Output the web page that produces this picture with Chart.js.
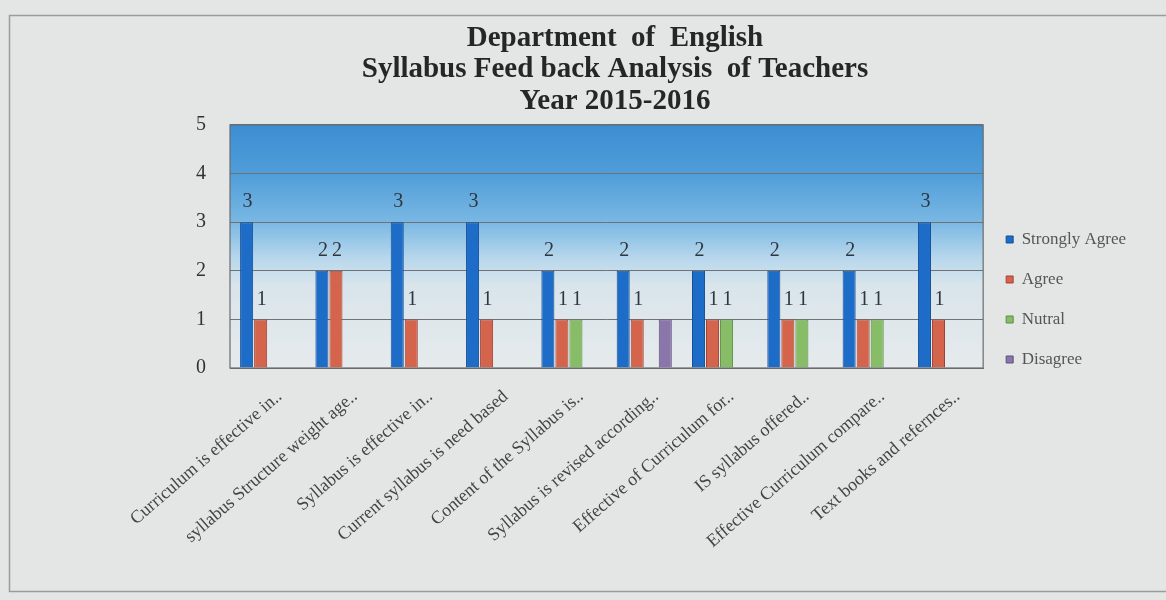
<!DOCTYPE html>
<html>
<head>
<meta charset="utf-8">
<script src="https://cdn.jsdelivr.net/npm/chart.js@4"></script>
<style>
html,body{margin:0;padding:0;background:#e4e6e6;}
#wrap{width:1166px;height:600px;position:relative;}
</style>
</head>
<body>
<div id="wrap"><canvas id="c" width="1166" height="600"></canvas></div>
<script>
const categories = [
  "Curriculum is effective in..",
  "syllabus Structure weight age..",
  "Syllabus is effective in..",
  "Current syllabus is need based",
  "Content of the Syllabus is..",
  "Syllabus is revised according..",
  "Effective of Curriculum for..",
  "IS syllabus offered..",
  "Effective Curriculum compare..",
  "Text books and refernces.."
];
const stronglyAgree = [3, 2, 3, 3, 2, 2, 2, 2, 2, 3];
const agree         = [1, 2, 1, 1, 1, 1, 1, 1, 1, 1];
const nutral        = [null, null, null, null, 1, null, 1, 1, 1, null];
const disagree      = [null, null, null, null, null, 1, null, null, null, null];
const titleLines = ["Department  of  English", "Syllabus Feed back Analysis  of Teachers", "Year 2015-2016"];

const serif = "'Liberation Serif', 'DejaVu Serif', serif";

const bgPlugin = {
  id: 'bg',
  beforeDraw(chart) {
    const {ctx, chartArea: a} = chart;
    ctx.save();
    ctx.fillStyle = '#e4e6e6';
    ctx.fillRect(0, 0, chart.width, chart.height);
    ctx.strokeStyle = '#9a9c9c';
    ctx.lineWidth = 1.5;
    ctx.strokeRect(9.5, 15.5, 1160, 576);
    const g = ctx.createLinearGradient(0, a.top, 0, a.bottom);
    g.addColorStop(0, '#3d8dd2');
    g.addColorStop(0.2, '#4f9dd9');
    g.addColorStop(0.4, '#7ab8e3');
    g.addColorStop(0.55, '#b8d7ec');
    g.addColorStop(0.66, '#d9e5eb');
    g.addColorStop(1, '#e6eaec');
    ctx.fillStyle = g;
    ctx.fillRect(a.left, a.top, a.right - a.left, a.bottom - a.top);
    ctx.restore();
  },
  afterDatasetsDraw(chart) {
    const {ctx, chartArea: a} = chart;
    ctx.save();
    ctx.strokeStyle = '#6a6c6e';
    ctx.lineWidth = 1.2;
    ctx.strokeRect(a.left, a.top, a.right - a.left, a.bottom - a.top);
    ctx.font = "20px " + serif;
    ctx.fillStyle = '#2e3640';
    ctx.textAlign = 'center';
    ctx.textBaseline = 'bottom';
    [0, 1, 2].forEach(di => {
      const meta = chart.getDatasetMeta(di);
      meta.data.forEach((bar, i) => {
        const v = chart.data.datasets[di].data[i];
        if (v == null) return;
        ctx.fillText(String(v), bar.x + 1, bar.y - 10);
      });
    });
    ctx.restore();
  }
};

new Chart(document.getElementById('c'), {
  type: 'bar',
  data: {
    labels: categories,
    datasets: [
      {label: 'Strongly Agree', data: stronglyAgree, backgroundColor: '#1d6cc8', borderColor: '#154f96', borderWidth: 1},
      {label: 'Agree', data: agree, backgroundColor: '#d4644c', borderColor: '#9e4334', borderWidth: 1},
      {label: 'Nutral', data: nutral, backgroundColor: '#86bd66', borderColor: '#5a8c45', borderWidth: 1},
      {label: 'Disagree', data: disagree, backgroundColor: '#8a76aa', borderColor: '#5f4f7c', borderWidth: 1}
    ]
  },
  options: {
    responsive: false,
    animation: false,
    layout: {padding: {left: 94, right: 30, top: 23, bottom: 0}},
    datasets: {bar: {categoryPercentage: 0.745, barPercentage: 0.93}},
    plugins: {
      title: {
        display: true,
        text: titleLines,
        color: '#262626',
        font: {family: serif, size: 29, weight: 'bold', lineHeight: 1.08},
        padding: {top: 0, bottom: 8}
      },
      legend: {
        position: 'right',
        align: 'start',
        title: {display: true, text: ' ', font: {size: 10}, padding: {top: 0, bottom: 173}},
        labels: {
          color: '#555',
          font: {family: serif, size: 17},
          boxWidth: 7,
          boxHeight: 7,
          padding: 23
        }
      },
      tooltip: {enabled: false}
    },
    scales: {
      x: {
        grid: {display: false},
        border: {display: true, color: '#6a6c6e'},
        ticks: {
          color: '#444',
          font: {family: serif, size: 18},
          minRotation: 41,
          maxRotation: 41,
          autoSkip: false,
          labelOffset: 12,
          padding: 10
        },
        afterFit(s) { s.height = 232; }
      },
      y: {
        min: 0, max: 5,
        grid: {color: '#707274', lineWidth: 1, drawTicks: false},
        border: {display: false},
        ticks: {stepSize: 1, color: '#333', font: {family: serif, size: 20}, padding: 24},
        afterFit(s) { s.width = 136; }
      }
    }
  },
  plugins: [bgPlugin]
});
</script>
</body>
</html>
